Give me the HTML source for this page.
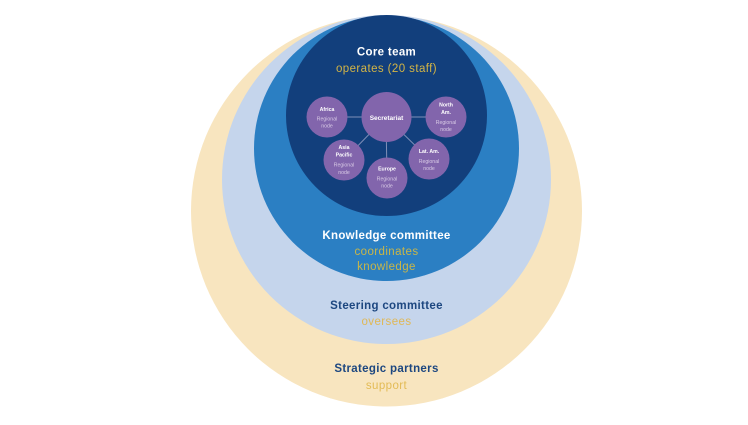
<!DOCTYPE html>
<html><head><meta charset="utf-8"><style>
html,body{margin:0;padding:0;background:#fff;width:748px;height:425px;overflow:hidden}
svg{display:block;filter:blur(.3px)}
text{font-family:"Liberation Sans",sans-serif;text-anchor:middle}
.b{font-weight:700;letter-spacing:.33px}
.y{fill:#c9b648;font-size:11.5px;letter-spacing:.42px}
.n{fill:#fff;font-size:5.2px;font-weight:700}
.s{fill:#d9cbe6;font-size:5.2px}
</style></head><body>
<svg width="748" height="425" viewBox="0 0 748 425" xmlns="http://www.w3.org/2000/svg">
<rect width="748" height="425" fill="#fff"/>
<circle cx="386.5" cy="211" r="195.5" fill="#f8e5bf"/>
<circle cx="386.5" cy="179.5" r="164.5" fill="#c5d5ec"/>
<circle cx="386.5" cy="148.5" r="132.5" fill="#2b7fc3"/>
<circle cx="386.5" cy="115.5" r="100.5" fill="#123f7c"/>
<g stroke="#7f8fb8" stroke-width="1">
<line x1="327" y1="117" x2="446" y2="117"/>
<line x1="386" y1="117" x2="344" y2="160"/>
<line x1="386" y1="117" x2="387" y2="178"/>
<line x1="386" y1="117" x2="429" y2="159"/>
</g>
<g fill="#8265ac">
<circle cx="386.5" cy="117" r="25"/>
<circle cx="327" cy="117" r="20.5"/>
<circle cx="446" cy="117" r="20.5"/>
<circle cx="344" cy="160" r="20.5"/>
<circle cx="387" cy="178" r="20.5"/>
<circle cx="429" cy="159" r="20.5"/>
</g>
<text x="386.5" y="55.5" class="b" fill="#fff" font-size="11.5">Core team</text>
<text x="386.5" y="72" class="y" style="fill:#d4b545">operates (20 staff)</text>
<text x="386.5" y="120" class="n" style="font-size:6.5px">Secretariat</text>
<text x="327" y="111" class="n">Africa</text>
<text x="327" y="120.5" class="s">Regional</text>
<text x="327" y="127.5" class="s">node</text>
<text x="446" y="106.5" class="n">North</text>
<text x="446" y="114" class="n">Am.</text>
<text x="446" y="124" class="s">Regional</text>
<text x="446" y="131" class="s">node</text>
<text x="344" y="149" class="n">Asia</text>
<text x="344" y="156.5" class="n">Pacific</text>
<text x="344" y="166.5" class="s">Regional</text>
<text x="344" y="174" class="s">node</text>
<text x="387" y="170.5" class="n">Europe</text>
<text x="387" y="180.5" class="s">Regional</text>
<text x="387" y="187.5" class="s">node</text>
<text x="429" y="153" class="n">Lat. Am.</text>
<text x="429" y="163" class="s">Regional</text>
<text x="429" y="170" class="s">node</text>
<text x="386.5" y="239" class="b" fill="#fff" font-size="11.5">Knowledge committee</text>
<text x="386.5" y="255" class="y">coordinates</text>
<text x="386.5" y="270" class="y">knowledge</text>
<text x="386.5" y="309" class="b" fill="#1d4780" font-size="11.5">Steering committee</text>
<text x="386.5" y="325" class="y" style="fill:#e0b856">oversees</text>
<text x="386.5" y="372" class="b" fill="#1d4780" font-size="11.5">Strategic partners</text>
<text x="386.5" y="389" class="y" style="fill:#e3bb55">support</text>
</svg>
</body></html>
